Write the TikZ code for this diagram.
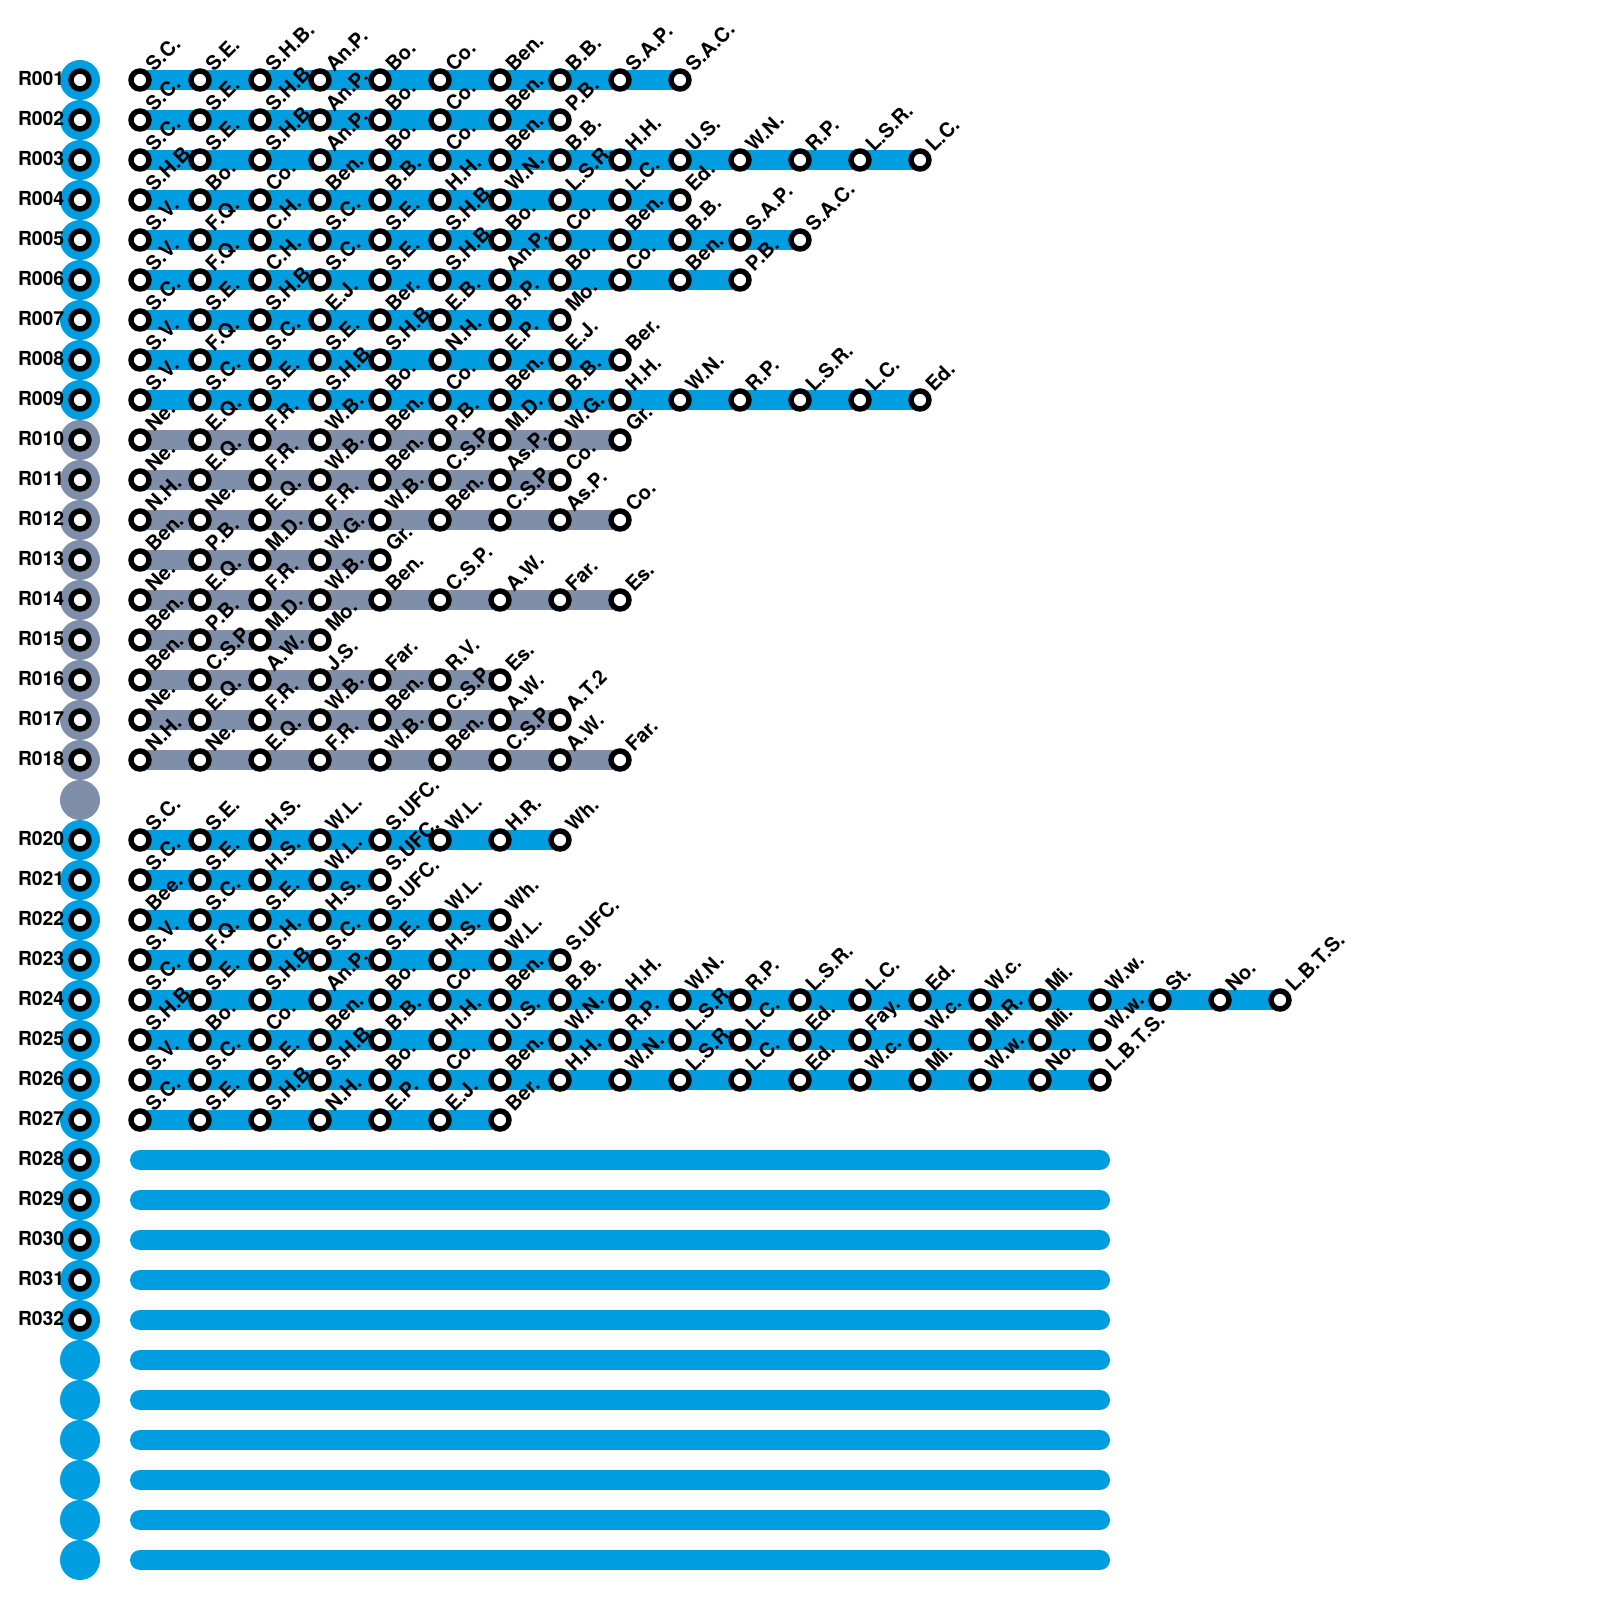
\documentclass[tikz,border=0pt]{standalone}
\usepackage{fontspec}
\setsansfont{TeX Gyre Heros}
\usepackage{xcolor}
\usetikzlibrary{backgrounds}
\definecolor{lineblue}{HTML}{009EE0}
\definecolor{linegrey}{HTML}{7F8FA9}

\begin{document}
\begin{tikzpicture}[
    x=0.75pt,
    y=-0.75pt,
    marker/.style={
        circle,
        inner sep=0pt,
        outer sep=0pt,
        minimum size=30pt
    },
    halt/.style={
        circle,
        draw=black,
        fill=white,
        line width=4.1pt,
        inner sep=0pt,
        outer sep=0pt,
        minimum size=13.5pt
    },
    rowname/.style={
        anchor=base east,
        inner sep=0pt,
        font=\sffamily\bfseries\fontsize{14.5}{15}\selectfont
    },
    haltname/.style={
        anchor=base west,
        inner sep=0pt,
        rotate=45,
        font=\sffamily\bfseries\fontsize{15}{15}\selectfont
    },
    bar/.style={
        line width=15pt,
        line cap=round
    }
]

\useasboundingbox (0,0) rectangle (1600,1600);

% rows with named halts
\foreach \rw/\rid/\col/\stops in {
    1/R001/lineblue/{S.C.,S.E.,S.H.B.,An.P.,Bo.,Co.,Ben.,B.B.,S.A.P.,S.A.C.},
    2/R002/lineblue/{S.C.,S.E.,S.H.B.,An.P.,Bo.,Co.,Ben.,P.B.},
    3/R003/lineblue/{S.C.,S.E.,S.H.B.,An.P.,Bo.,Co.,Ben.,B.B.,H.H.,U.S.,W.N.,R.P.,L.S.R.,L.C.},
    4/R004/lineblue/{S.H.B.,Bo.,Co.,Ben.,B.B.,H.H.,W.N.,L.S.R.,L.C.,Ed.},
    5/R005/lineblue/{S.V.,F.Q.,C.H.,S.C.,S.E.,S.H.B.,Bo.,Co.,Ben.,B.B.,S.A.P.,S.A.C.},
    6/R006/lineblue/{S.V.,F.Q.,C.H.,S.C.,S.E.,S.H.B.,An.P.,Bo.,Co.,Ben.,P.B.},
    7/R007/lineblue/{S.C.,S.E.,S.H.B.,E.J.,Ber.,E.B.,B.P.,Mo.},
    8/R008/lineblue/{S.V.,F.Q.,S.C.,S.E.,S.H.B.,N.H.,E.P.,E.J.,Ber.},
    9/R009/lineblue/{S.V.,S.C.,S.E.,S.H.B.,Bo.,Co.,Ben.,B.B.,H.H.,W.N.,R.P.,L.S.R.,L.C.,Ed.},
    10/R010/linegrey/{Ne.,E.Q.,F.R.,W.B.,Ben.,P.B.,M.D.,W.G.,Gr.},
    11/R011/linegrey/{Ne.,E.Q.,F.R.,W.B.,Ben.,C.S.P.,As.P.,Co.},
    12/R012/linegrey/{N.H.,Ne.,E.Q.,F.R.,W.B.,Ben.,C.S.P.,As.P.,Co.},
    13/R013/linegrey/{Ben.,P.B.,M.D.,W.G.,Gr.},
    14/R014/linegrey/{Ne.,E.Q.,F.R.,W.B.,Ben.,C.S.P.,A.W.,Far.,Es.},
    15/R015/linegrey/{Ben.,P.B.,M.D.,Mo.},
    16/R016/linegrey/{Ben.,C.S.P.,A.W.,J.S.,Far.,R.V.,Es.},
    17/R017/linegrey/{Ne.,E.Q.,F.R.,W.B.,Ben.,C.S.P.,A.W.,A.T.2},
    18/R018/linegrey/{N.H.,Ne.,E.Q.,F.R.,W.B.,Ben.,C.S.P.,A.W.,Far.},
    20/R020/lineblue/{S.C.,S.E.,H.S.,W.L.,S.UFC.,W.L.,H.R.,Wh.},
    21/R021/lineblue/{S.C.,S.E.,H.S.,W.L.,S.UFC.},
    22/R022/lineblue/{Bee.,S.C.,S.E.,H.S.,S.UFC.,W.L.,Wh.},
    23/R023/lineblue/{S.V.,F.Q.,C.H.,S.C.,S.E.,H.S.,W.L.,S.UFC.},
    24/R024/lineblue/{S.C.,S.E.,S.H.B.,An.P.,Bo.,Co.,Ben.,B.B.,H.H.,W.N.,R.P.,L.S.R.,L.C.,Ed.,W.c.,Mi.,W.w.,St.,No.,L.B.T.S.},
    25/R025/lineblue/{S.H.B.,Bo.,Co.,Ben.,B.B.,H.H.,U.S.,W.N.,R.P.,L.S.R.,L.C.,Ed.,Fay.,W.c.,M.R.,Mi.,W.w.},
    26/R026/lineblue/{S.V.,S.C.,S.E.,S.H.B.,Bo.,Co.,Ben.,H.H.,W.N.,L.S.R.,L.C.,Ed.,W.c.,Mi.,W.w.,No.,L.B.T.S.},
    27/R027/lineblue/{S.C.,S.E.,S.H.B.,N.H.,E.P.,E.J.,Ber.}}{
    \node[marker, fill=\col] (m\rw) at (80,{40+40*\rw}) {};
    \node[halt] (k\rw) at (m\rw) {};
    \node[rowname] (n\rw) at (64.5,{45+40*\rw}) {\rid};
    \foreach \lab [count=\n, remember=\n as \p (initially 0)] in \stops {
        \node[halt] (s\rw-\n) at ({80+60*\n},{40+40*\rw}) {};
        \node[haltname] (t\rw-\n) at ({94+60*\n},{33+40*\rw}) {\lab};
        \ifnum\n>1
            \begin{scope}[on background layer]
                \draw[bar, draw=\col] (s\rw-\p.center) -- (s\rw-\n.center);
            \end{scope}
        \fi
    }
}

% the gap in the middle
\node[marker, fill=linegrey] (m19) at (80,800) {};

% rows without halts
\foreach \rw/\rid in {28/R028,29/R029,30/R030,31/R031,32/R032}{
    \node[marker, fill=lineblue] (m\rw) at (80,{40+40*\rw}) {};
    \node[halt] (k\rw) at (m\rw) {};
    \node[rowname] (n\rw) at (64.5,{45+40*\rw}) {\rid};
}
\foreach \rw in {33,34,35,36,37,38}{
    \node[marker, fill=lineblue] (m\rw) at (80,{40+40*\rw}) {};
}
\foreach \rw in {28,29,30,31,32,33,34,35,36,37,38}{
    \coordinate (a\rw) at (140,{40+40*\rw});
    \coordinate (b\rw) at (1100,{40+40*\rw});
    \draw[bar, draw=lineblue] (a\rw) -- (b\rw);
}

\end{tikzpicture}
\end{document}
